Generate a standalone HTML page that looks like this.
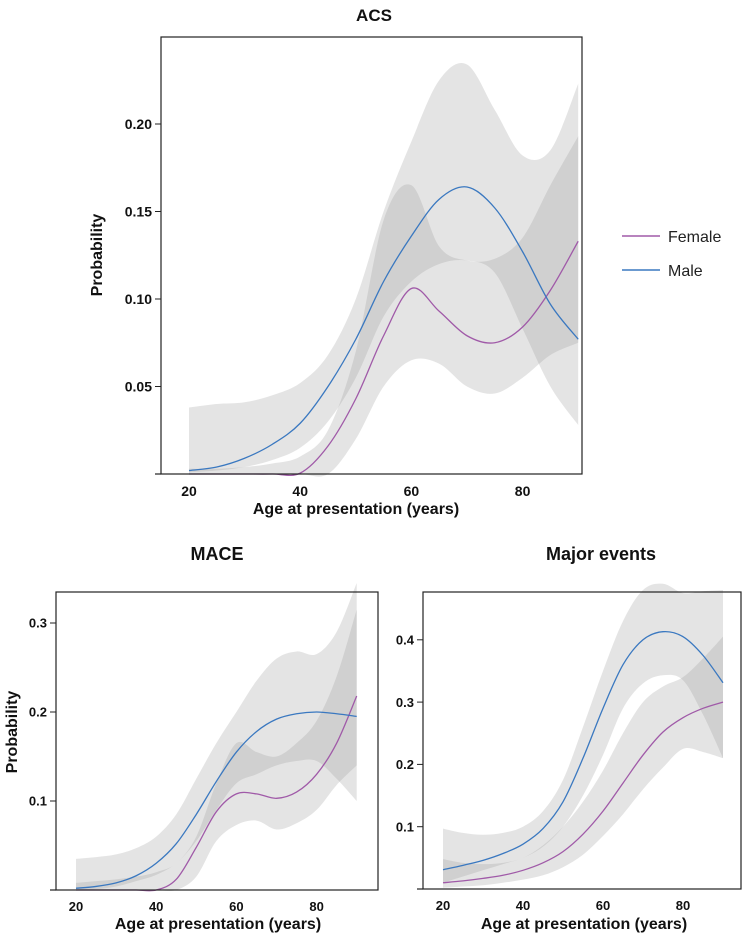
<!DOCTYPE html>
<html><head><meta charset="utf-8"><style>
html,body{margin:0;padding:0;background:#fff;}
svg{display:block;font-family:"Liberation Sans",sans-serif;}
</style></head><body>
<svg id="fig" width="750" height="937" viewBox="0 0 750 937"></svg>
<script>
const ages = [20,25,30,35,40,45,50,55,60,65,70,75,80,85,90];
// ACS
const acsMale = [0.002,0.004,0.009,0.017,0.029,0.05,0.077,0.11,0.136,0.157,0.164,0.152,0.127,0.097,0.077];
const acsFemale = [0,0,0,0,0.0005,0.016,0.043,0.079,0.106,0.093,0.079,0.075,0.084,0.105,0.133];
const acsMaleUp = [0.038,0.04,0.041,0.045,0.052,0.068,0.1,0.15,0.19,0.225,0.234,0.208,0.182,0.185,0.223];
const acsMaleLo = [0.001,0.002,0.004,0.008,0.015,0.03,0.055,0.09,0.11,0.12,0.122,0.115,0.083,0.05,0.028];
const acsFemUp = [0.003,0.003,0.004,0.006,0.01,0.025,0.07,0.145,0.165,0.13,0.122,0.123,0.135,0.165,0.193];
const acsFemLo = [0,0,0,0,0,0,0.02,0.05,0.065,0.063,0.05,0.046,0.055,0.068,0.075];
const acsYTicks = [0.05,0.10,0.15,0.20];
// MACE
const maceMale = [0.002,0.004,0.008,0.016,0.03,0.052,0.085,0.122,0.155,0.178,0.192,0.198,0.2,0.198,0.195];
const maceFemale = [0,0,0,0,0,0.012,0.048,0.088,0.108,0.108,0.103,0.11,0.13,0.165,0.218];
const maceMaleUp = [0.035,0.037,0.04,0.047,0.06,0.085,0.125,0.165,0.2,0.235,0.26,0.268,0.265,0.29,0.345];
const maceMaleLo = [0,0.001,0.004,0.01,0.017,0.03,0.055,0.09,0.12,0.13,0.14,0.145,0.145,0.125,0.1];
const maceFemUp = [0.008,0.01,0.012,0.015,0.02,0.03,0.06,0.12,0.165,0.155,0.15,0.165,0.19,0.24,0.315];
const maceFemLo = [0,0,0,0,0,0,0.015,0.055,0.073,0.078,0.068,0.075,0.09,0.118,0.14];
const maceYTicks = [0.1,0.2,0.3];
// Major events
const majMale = [0.031,0.038,0.046,0.057,0.072,0.097,0.14,0.21,0.29,0.36,0.4,0.413,0.405,0.375,0.331];
const majFemale = [0.01,0.013,0.017,0.022,0.03,0.042,0.06,0.088,0.125,0.17,0.215,0.252,0.275,0.29,0.3];
const majMaleUp = [0.097,0.09,0.087,0.09,0.1,0.125,0.175,0.26,0.35,0.43,0.48,0.49,0.475,0.478,0.48];
const majMaleLo = [0.01,0.02,0.03,0.04,0.05,0.068,0.1,0.15,0.215,0.29,0.33,0.343,0.335,0.28,0.21];
const majFemUp = [0.048,0.042,0.04,0.042,0.05,0.07,0.1,0.14,0.19,0.25,0.3,0.325,0.34,0.37,0.405];
const majFemLo = [0.002,0.004,0.006,0.01,0.015,0.022,0.035,0.055,0.085,0.12,0.16,0.195,0.225,0.22,0.21];
const majYTicks = [0.1,0.2,0.3,0.4];
const xTicks = [20,40,60,80];

const NS="http://www.w3.org/2000/svg";
const fig=document.getElementById('fig');
function mk(tag,attrs,parent){const e=document.createElementNS(NS,tag);for(const k in attrs)e.setAttribute(k,attrs[k]);(parent||fig).appendChild(e);return e;}
function smooth(pts){let d="M"+pts[0][0]+","+pts[0][1];for(let i=0;i<pts.length-1;i++){const p0=pts[Math.max(0,i-1)],p1=pts[i],p2=pts[i+1],p3=pts[Math.min(pts.length-1,i+2)];
const c1=[p1[0]+(p2[0]-p0[0])/6,p1[1]+(p2[1]-p0[1])/6],c2=[p2[0]-(p3[0]-p1[0])/6,p2[1]-(p3[1]-p1[1])/6];
d+=" C"+c1[0]+","+c1[1]+" "+c2[0]+","+c2[1]+" "+p2[0]+","+p2[1];}return d;}
function smoothCont(pts){return smooth(pts).replace(/^M/,"L");}

function panel(o){
  const g=mk('g',{});
  
  
  const X=a=>o.x20+(a-20)*o.pxYr, Y=v=>o.y0-v*o.pxUnit;
  const band=(up,lo,nm)=>{const top=ages.map((a,i)=>[X(a),Y(up[i])]);const bot=ages.map((a,i)=>[X(a),Y(lo[i])]).reverse();
    const p=mk('path',{d:smooth(top)+" "+smoothCont(bot)+" Z",fill:"rgb(151,151,151)","fill-opacity":"0.26"},g);
    
    };
  band(o.mU,o.mL,'male-ci-band');band(o.fU,o.fL,'female-ci-band');
  const line=(vals,col,nm)=>{const p=mk('path',{d:smooth(ages.map((a,i)=>[X(a),Y(vals[i])])),fill:"none",stroke:col,"stroke-width":"1.3"},g);
    
    };
  line(o.f,"#a05aa8",'female-line');line(o.m,"#3a78c0",'male-line');
  const fr=mk('rect',{x:o.L,y:o.T,width:o.R-o.L,height:o.y0-o.T,fill:"none",stroke:"#222","stroke-width":"1.2"},g);
  
  
  mk('line',{x1:o.L-6,x2:o.L,y1:o.y0,y2:o.y0,stroke:"#222","stroke-width":"1.2"},g);
  o.yt.forEach(v=>{mk('line',{x1:o.L-6,x2:o.L,y1:Y(v),y2:Y(v),stroke:"#222","stroke-width":"1"},g);
    const t=mk('text',{x:o.L-9,y:Y(v)+o.fs*0.36,"text-anchor":"end","font-size":o.fs,"font-weight":"bold",fill:"#111"},g);
    t.textContent=o.dec?v.toFixed(2):v.toFixed(1);
    
    });
  xTicks.forEach(a=>{const t=mk('text',{x:X(a),y:o.y0+o.fs+8,"text-anchor":"middle","font-size":o.fs,"font-weight":"bold",fill:"#111"},g);
    t.textContent=a;
    
    });
  const xt=mk('text',{x:o.xtX,y:o.xtY,"text-anchor":"middle","font-size":o.tfs,"font-weight":"bold",fill:"#111"},g);
  xt.textContent="Age at presentation (years)";
  
  
  if(o.ytX){const yt=mk('text',{x:0,y:0,transform:`translate(${o.ytX},${o.ytY}) rotate(-90)`,"text-anchor":"middle","font-size":o.tfs,"font-weight":"bold",fill:"#111"},g);
    yt.textContent="Probability";
    
    }
  const ti=mk('text',{x:o.tX,y:o.tY,"text-anchor":"middle","font-size":o.tifs,"font-weight":"bold",fill:"#111"},g);
  ti.textContent=o.title;
  
  
}
panel({name:'acs-chart',x20:189,pxYr:5.56,y0:474,pxUnit:1750,L:161,R:582,T:37,m:acsMale,f:acsFemale,mU:acsMaleUp,mL:acsMaleLo,fU:acsFemUp,fL:acsFemLo,yt:acsYTicks,dec:true,fs:14,tfs:16,xtX:356,xtY:514,ytX:102,ytY:255,title:"ACS",tX:374,tY:21,tifs:17});
panel({name:'mace-chart',x20:76,pxYr:4.01,y0:890,pxUnit:890,L:56,R:378,T:592,m:maceMale,f:maceFemale,mU:maceMaleUp,mL:maceMaleLo,fU:maceFemUp,fL:maceFemLo,yt:maceYTicks,dec:false,fs:13,tfs:16,xtX:218,xtY:929,ytX:17,ytY:732,title:"MACE",tX:217,tY:560,tifs:18});
panel({name:'major-events-chart',x20:443,pxYr:4.0,y0:889,pxUnit:623,L:423,R:741,T:592,m:majMale,f:majFemale,mU:majMaleUp,mL:majMaleLo,fU:majFemUp,fL:majFemLo,yt:majYTicks,dec:false,fs:13,tfs:16,xtX:584,xtY:929,ytX:0,ytY:0,title:"Major events",tX:601,tY:560,tifs:18});
// legend
const lg=mk('g',{});


[["Female","#a05aa8",236],["Male","#3a78c0",270]].forEach(([n,c,y])=>{
  const l=mk('line',{x1:622,x2:660,y1:y,y2:y,stroke:c,"stroke-width":"1.5"},lg);
  
  
  const t=mk('text',{x:668,y:y+6,"font-size":16,fill:"#222"},lg);
  t.textContent=n;
  
  
});
</script>
</body></html>
